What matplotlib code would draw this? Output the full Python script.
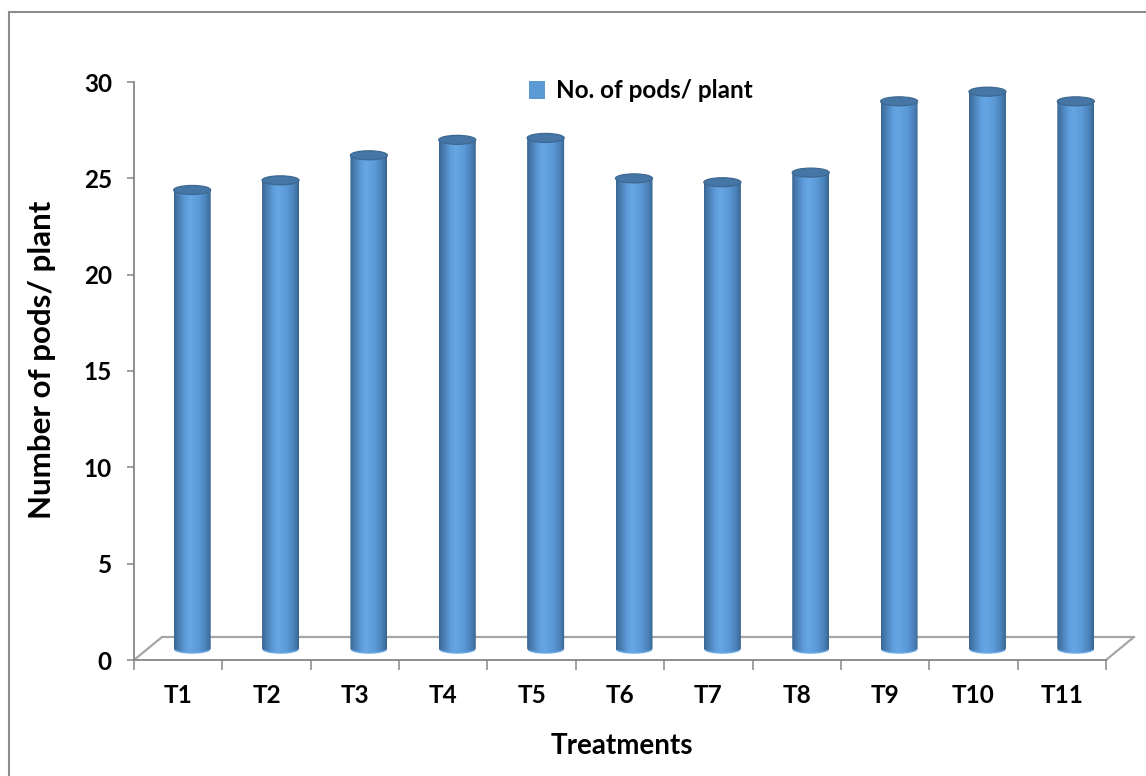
import numpy as np
import matplotlib
matplotlib.use("Agg")
import matplotlib.pyplot as plt
from matplotlib.patches import Ellipse, PathPatch, Patch, Rectangle
from matplotlib.path import Path
from matplotlib.colors import LinearSegmentedColormap

# ---- data ----
treatments = ["T1", "T2", "T3", "T4", "T5", "T6", "T7", "T8", "T9", "T10", "T11"]
pods_per_plant = [23.8, 24.3, 25.6, 26.4, 26.5, 24.4, 24.2, 24.7, 28.4, 28.9, 28.4]
y_ticks = [0, 5, 10, 15, 20, 25, 30]
series_name = "No. of pods/ plant"
x_title = "Treatments"
y_title = "Number of pods/ plant"

plt.rcParams["font.family"] = ["Lato", "DejaVu Sans"]
plt.rcParams["font.weight"] = "bold"

W, H, DPI = 1146, 776, 100
fig = plt.figure(figsize=(W / DPI, H / DPI), dpi=DPI)
fig.patch.set_facecolor("white")

# plot area (front plane of the 3-D box)
left_px, right_px, bottom_px, top_px = 134, 1106, 660, 82
ax = fig.add_axes([left_px / W, (H - bottom_px) / H,
                   (right_px - left_px) / W, (bottom_px - top_px) / H])
ax.set_facecolor("none")

n = len(treatments)
ymax = 30
px_x = (right_px - left_px) / n          # pixels per category
px_y = (bottom_px - top_px) / ymax       # pixels per unit

# floor depth (oblique projection) in data units
dx = 28 / px_x
dy = 23 / px_y
grid_col = "#a6a6a6"
axis_col = "#868686"

# floor outline: back edge and the two side slants
ax.plot([-0.5 + dx, n - 0.5 + dx], [dy, dy], color=grid_col, lw=1.6,
        clip_on=False, zorder=1, solid_capstyle="round")
for xe in (-0.5, n - 0.5):
    ax.plot([xe, xe + dx], [0, dy], color=grid_col, lw=1.6,
            clip_on=False, zorder=1, solid_capstyle="round")

# cylinder shading across the width
cyl_cmap = LinearSegmentedColormap.from_list(
    "cyl",
    [(0.0, "#3a6690"), (0.1, "#4679ad"), (0.32, "#5f9edd"),
     (0.45, "#66a6e4"), (0.68, "#5b99d7"), (0.88, "#4a80b8"), (1.0, "#38648d")])
grad = np.tile(np.linspace(0, 1, 256), (2, 1))

cw = 37 / px_x       # cylinder width
ch = 9 / px_y        # ellipse height
base = dy / 2
t = np.linspace(np.pi, 2 * np.pi, 60)

for i, v in enumerate(pods_per_plant):
    cx = i + dx / 2
    arc_x = cx + cw / 2 * np.cos(t)
    arc_y = base + ch / 2 * np.sin(t)
    verts = [(cx - cw / 2, base + v)] + list(zip(arc_x, arc_y)) + \
            [(cx + cw / 2, base + v), (cx - cw / 2, base + v)]
    codes = [Path.MOVETO] + [Path.LINETO] * (len(verts) - 2) + [Path.CLOSEPOLY]
    body = PathPatch(Path(verts, codes), facecolor="none", edgecolor="none")
    ax.add_patch(body)
    im = ax.imshow(grad, extent=(cx - cw / 2, cx + cw / 2, base - ch / 2, base + v),
                   aspect="auto", cmap=cyl_cmap, origin="lower",
                   interpolation="bilinear", zorder=3)
    im.set_clip_path(body)
    # soft rim along the bottom
    ax.plot(arc_x[8:-8], arc_y[8:-8], color="#6aa8e4", lw=1.0, zorder=3.5,
            clip_on=False)
    # top cap
    ax.add_patch(Ellipse((cx, base + v), cw, ch, facecolor="#4676a6",
                         edgecolor="#3d6891", lw=0.9, zorder=4, clip_on=False))

ax.set_xlim(-0.5, n - 0.5)
ax.set_ylim(0, ymax)

for s in ("top", "right"):
    ax.spines[s].set_visible(False)
for s in ("left", "bottom"):
    ax.spines[s].set_color(axis_col)
    ax.spines[s].set_linewidth(1.3)
    ax.spines[s].set_zorder(2)

ax.set_yticks(y_ticks)
ax.set_yticklabels([str(v) for v in y_ticks])
ax.tick_params(axis="y", direction="out", length=5, width=1.1, color=axis_col,
               pad=11, labelsize=17.5)
ax.set_xticks(range(n))
ax.set_xticklabels(treatments)
ax.set_xticks(np.arange(-0.5, n), minor=True)
ax.tick_params(axis="x", which="major", length=0, pad=17, labelsize=17.5)
ax.tick_params(axis="x", which="minor", direction="out", length=7.5, width=1.1,
               color=axis_col)
for lab in ax.get_xticklabels() + ax.get_yticklabels():
    lab.set_fontweight("bold")

fig.text(622 / W, 1 - 746 / H, x_title, ha="center", va="center",
         fontsize=20, fontweight="bold")
fig.text(42 / W, 1 - 360 / H, y_title, ha="center", va="center",
         rotation=90, fontsize=22.5, fontweight="bold")

ax.legend(handles=[Patch(facecolor="#5b9bd5", edgecolor="none", label=series_name)],
          loc="center left", bbox_to_anchor=(529 / W, 1 - 91 / H),
          bbox_transform=fig.transFigure, frameon=False,
          handlelength=0.65, handleheight=0.75, handletextpad=0.45,
          borderpad=0, borderaxespad=0,
          prop={"size": 17.5, "weight": "bold"})

# chart frame (left and top edges visible)
fig.add_artist(Rectangle((9 / W, -0.1), 1.2, (H - 12) / H + 0.1,
                         transform=fig.transFigure, fill=False,
                         edgecolor="#8c8c8c", lw=1.5))

fig.savefig("out.png", dpi=DPI)
